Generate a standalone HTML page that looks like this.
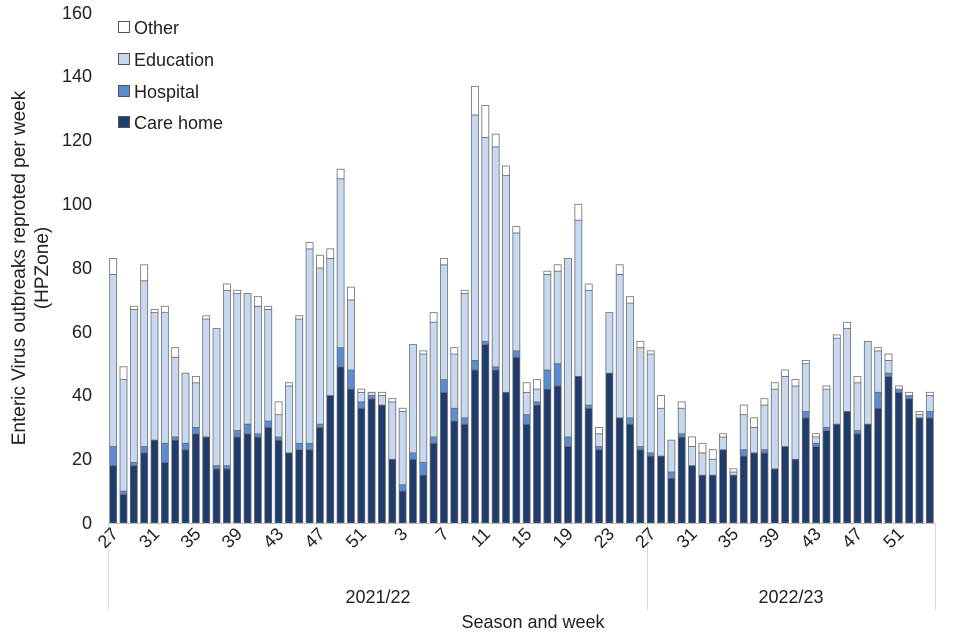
<!DOCTYPE html>
<html><head><meta charset="utf-8"><style>
html,body{margin:0;padding:0;background:#fff}
svg{display:block}
text{font-family:"Liberation Sans",Arial,sans-serif;fill:#222}
</style></head><body>
<svg id="c" width="960" height="640" viewBox="0 0 960 640" xmlns="http://www.w3.org/2000/svg">
<g id="bars"></g>
<line x1="108" y1="523.5" x2="935" y2="523.5" stroke="#bfbfbf" stroke-width="1"/>
<line x1="108.5" y1="523" x2="108.5" y2="610" stroke="#d9d9d9"/>
<line x1="647.5" y1="523" x2="647.5" y2="610" stroke="#d9d9d9"/>
<line x1="935.5" y1="523" x2="935.5" y2="610" stroke="#d9d9d9"/>
<g font-size="18" text-anchor="end">
<text x="92" y="529">0</text><text x="92" y="465">20</text><text x="92" y="401">40</text>
<text x="92" y="338">60</text><text x="92" y="274">80</text><text x="92" y="210">100</text>
<text x="92" y="146">120</text><text x="92" y="82">140</text><text x="92" y="19">160</text>
</g>
<g id="xl" font-size="18" text-anchor="end"></g>
<text x="378" y="603" font-size="18" text-anchor="middle">2021/22</text>
<text x="791" y="603" font-size="18" text-anchor="middle">2022/23</text>
<text x="533" y="628" font-size="18" text-anchor="middle">Season and week</text>
<g transform="translate(25,268) rotate(-90)" font-size="19" text-anchor="middle">
<text x="0" y="0">Enteric Virus outbreaks reproted per week</text>
<text x="0" y="23">(HPZone)</text>
</g>
<g font-size="18">
<rect x="118.5" y="21.5" width="11" height="11" fill="#fff" stroke="#555"/><text x="134" y="34">Other</text>
<rect x="118.5" y="53.5" width="11" height="11" fill="#c6d9f1" stroke="#555"/><text x="134" y="66">Education</text>
<rect x="118.5" y="85.5" width="11" height="11" fill="#5b8bd0" stroke="#555"/><text x="134" y="98">Hospital</text>
<rect x="118.5" y="116.5" width="11" height="11" fill="#1f3c6e" stroke="#555"/><text x="134" y="129">Care home</text>
</g>
</svg>
<script>
var d=[[18,24,78,83],[9,10,45,49],[18,19,67,68],[22,24,76,81],[26,26,66,67],[19,25,66,68],[26,27,52,55],[23,25,47,47],[28,30,44,46],[27,27,64,65],[17,18,61,61],[17,18,73,75],[27,29,72,73],[28,31,72,72],[27,28,68,71],[30,32,67,68],[26,27,34,38],[22,22,43,44],[23,25,64,65],[23,25,86,88],[30,31,80,84],[40,40,83,86],[49,55,108,111],[42,48,70,74],[36,38,41,42],[39,40,41,41],[37,37,40,41],[20,20,38,39],[10,12,35,36],[20,22,56,56],[15,19,53,54],[25,27,63,66],[41,45,81,83],[32,36,53,55],[31,33,72,73],[48,51,128,137],[56,57,121,131],[48,49,118,122],[41,41,109,112],[52,54,91,93],[31,34,41,44],[37,38,42,45],[42,48,78,79],[43,50,79,81],[24,27,83,83],[46,46,95,100],[36,37,73,75],[23,24,28,30],[47,47,66,66],[33,33,78,81],[31,33,69,71],[23,24,55,57],
[21,22,53,54],[21,21,36,40],[14,16,26,26],[27,28,36,38],[18,18,24,27],[15,15,22,25],[15,15,20,23],[23,23,27,28],[15,15,16,17],[21,23,34,37],[22,22,30,33],[22,23,37,39],[17,17,42,44],[24,24,46,48],[20,20,43,45],[33,35,50,51],[24,25,27,28],[29,30,42,43],[31,31,58,59],[35,35,61,63],[28,29,44,46],[31,31,57,57],[36,41,54,55],[46,47,51,53],[41,42,42,43],[39,40,40,41],[33,33,34,35],[33,35,40,41]];
var ns="http://www.w3.org/2000/svg",g=document.getElementById('bars'),xl=document.getElementById('xl');
var cols=['#1f3c6e','#5b8bd0','#c6d9f1','#ffffff'];
var pitch=(935-108)/d.length, w=7, Y=function(v){return 523-v*3.1875;};
var labs=[27,31,35,39,43,47,51,3,7,11,15,19,23,27,31,35,39,43,47,51];
var li=0;
d.forEach(function(b,i){
  var cx=108+(i+0.5)*pitch, prev=0;
  for(var k=0;k<4;k++){
    var v=b[k]; if(v>prev){
      var r=document.createElementNS(ns,'rect');
      r.setAttribute('x',(cx-w/2).toFixed(2));r.setAttribute('width',w);
      r.setAttribute('y',Y(v).toFixed(2));r.setAttribute('height',((v-prev)*3.1875).toFixed(2));
      r.setAttribute('fill',cols[k]);r.setAttribute('stroke','#6e6e6e');r.setAttribute('stroke-width','0.8');
      g.appendChild(r);}
    prev=Math.max(prev,v);
  }
  if((i<52 && i%4==0) || (i>=52 && (i-52)%4==0 && i-52<=24)){
    var t=document.createElementNS(ns,'text');
    t.setAttribute('transform','translate('+(cx+6)+',535) rotate(-45)');
    t.textContent=labs[li++]; xl.appendChild(t);
  }
});
</script>
</body></html>
